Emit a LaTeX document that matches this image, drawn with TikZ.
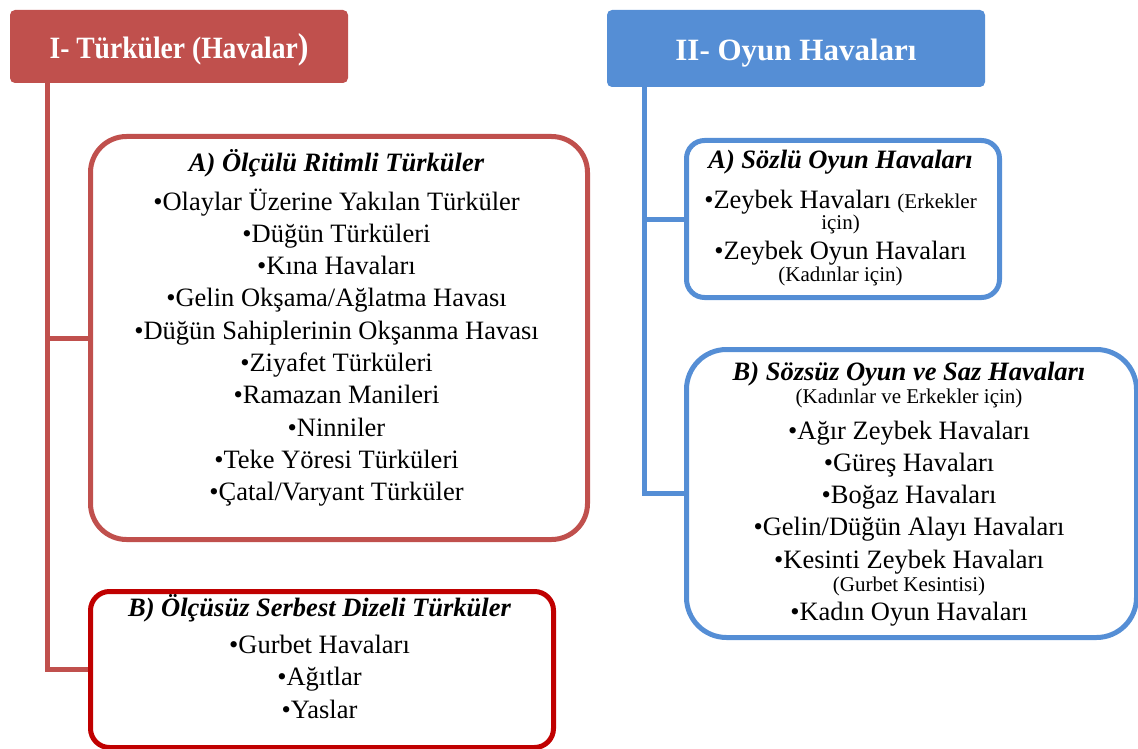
\documentclass[tikz,border=0pt]{standalone}
\usepackage{fontspec}
\setmainfont{Liberation Serif}
\usetikzlibrary{calc}
\definecolor{hred}{HTML}{C0504D}
\definecolor{dred}{HTML}{C00000}
\definecolor{hblue}{HTML}{558ED5}
\tikzset{
  hdr/.style={rectangle, rounded corners=5pt, inner sep=0pt, text=white,
    font=\fontsize{31}{34}\selectfont\bfseries, text height=24pt, text depth=0pt},
  grp/.style={rectangle, draw, line width=5pt, inner sep=0pt, anchor=north west},
  ttl/.style={anchor=base, inner sep=0pt, font=\fontsize{26.5}{30}\selectfont\bfseries\itshape},
  itm/.style={anchor=base, inner sep=0pt, font=\fontsize{26.5}{30}\selectfont},
  sml/.style={anchor=base, inner sep=0pt, font=\fontsize{21}{24}\selectfont},
  conn/.style={line width=5pt},
}
\begin{document}
\begin{tikzpicture}[x=1pt,y=-1pt]
\useasboundingbox (0,0) rectangle (1138,749);

% headers
\node[hdr, fill=hred, minimum width=338pt, minimum height=73pt] (H1) at (179,46.5)
  {\scalebox{0.89}[1]{I- Türküler (Havalar{\fontsize{36}{36}\selectfont)}}};
\node[hdr, fill=hblue, minimum width=378pt, minimum height=77pt] (H2) at (796,48.5)
  {II- Oyun Havaları};

% group boxes
\node[grp, draw=hred, rounded corners=36pt, minimum width=497pt, minimum height=403pt] (RA) at (88,134) {};
\node[grp, draw=dred, rounded corners=19pt, minimum width=463pt, minimum height=156pt] (RB) at (88,589) {};
\node[grp, draw=hblue, rounded corners=18pt, minimum width=313pt, minimum height=157pt] (BA) at (684,138) {};
\node[grp, draw=hblue, rounded corners=40pt, minimum width=450pt, minimum height=288pt] (BB) at (684,347) {};

% connectors
\coordinate (rtop) at ($(H1.south west)+(38pt,0)$);
\coordinate (btop) at ($(H2.south west)+(38pt,0)$);
\draw[conn, hred] (rtop) |- (RB.west);
\draw[conn, hred] (rtop |- RA.west) -- (RA.west);
\draw[conn, hblue] (btop) |- (BB.west);
\draw[conn, hblue] (btop |- BA.west) -- (BA.west);

% red box A text
\node[ttl] (raT) at (336.5,171.7) {A) Ölçülü Ritimli Türküler};
\foreach \t [count=\i from 0] in {Olaylar Üzerine Yakılan Türküler, Düğün Türküleri, Kına Havaları,
  Gelin Okşama/Ağlatma Havası, Düğün Sahiplerinin Okşanma Havası, Ziyafet Türküleri,
  Ramazan Manileri, Ninniler, Teke Yöresi Türküleri, Çatal/Varyant Türküler}
  \node[itm] (ra\i) at (336.5,{210+32.3*\i}) {•\t};

% red box B text
\node[ttl] (rbT) at (319.5,616.7) {B) Ölçüsüz Serbest Dizeli Türküler};
\foreach \t [count=\i from 0] in {Gurbet Havaları, Ağıtlar, Yaslar}
  \node[itm] (rb\i) at (319.5,{653+32.6*\i}) {•\t};

% blue box A text
\node[ttl] (baT) at (840.5,168) {A) Sözlü Oyun Havaları};
\node[itm] (ba0) at (840.5,208) {•Zeybek Havaları {\fontsize{21}{24}\selectfont(Erkekler}};
\node[sml] (ba0b) at (840.5,229) {için)};
\node[itm] (ba1) at (840.5,259) {•Zeybek Oyun Havaları};
\node[sml] (ba1b) at (840.5,281) {(Kadınlar için)};

% blue box B text
\node[ttl] (bbT) at (909,380) {B) Sözsüz Oyun ve Saz Havaları};
\node[sml] (bbS) at (909,403) {(Kadınlar ve Erkekler için)};
\node[itm] (bb0) at (909,439) {•Ağır Zeybek Havaları};
\node[itm] (bb1) at (909,471) {•Güreş Havaları};
\node[itm] (bb2) at (909,503) {•Boğaz Havaları};
\node[itm] (bb3) at (909,535) {•Gelin/Düğün Alayı Havaları};
\node[itm] (bb4) at (909,568) {•Kesinti Zeybek Havaları};
\node[sml] (bb4b) at (909,591) {(Gurbet Kesintisi)};
\node[itm] (bb5) at (909,620) {•Kadın Oyun Havaları};
\end{tikzpicture}
\end{document}
